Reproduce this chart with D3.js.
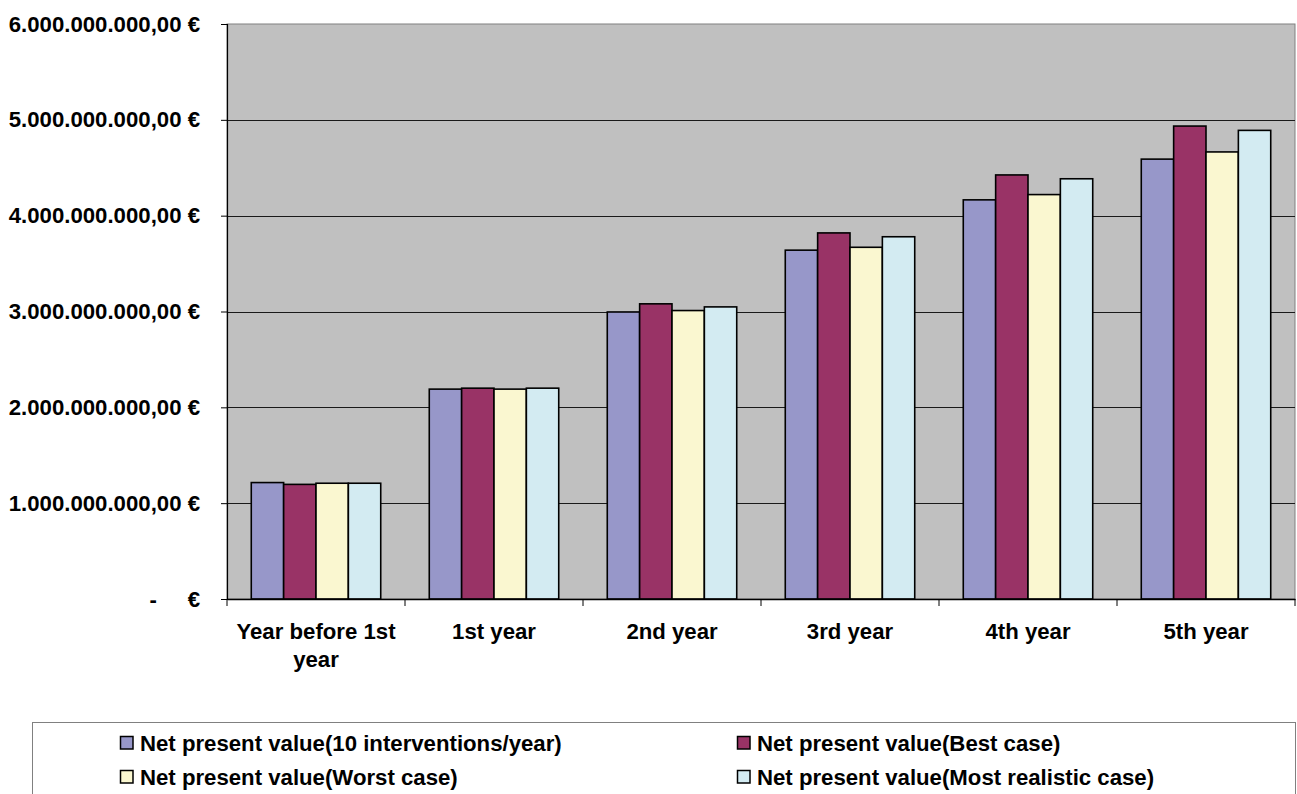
<!DOCTYPE html>
<html>
<head>
<meta charset="utf-8">
<script src="https://cdn.jsdelivr.net/npm/d3@7"></script>
<style>
  html, body { margin: 0; padding: 0; background: #ffffff; }
  svg { display: block; font-family: "Liberation Sans", Arial, sans-serif; font-weight: bold; }
</style>
</head>
<body>
<svg id="chart" width="1297" height="794"></svg>
<script>
// Net present value by year, four scenarios (values in €)
const categories = ["Year before 1st year", "1st year", "2nd year", "3rd year", "4th year", "5th year"];
const seriesNames = [
  "Net present value(10 interventions/year)",
  "Net present value(Best case)",
  "Net present value(Worst case)",
  "Net present value(Most realistic case)"
];
const tenInterventions = [1215000000, 2190000000, 2995000000, 3640000000, 4165000000, 4590000000];
const bestCase         = [1196000000, 2200000000, 3080000000, 3820000000, 4425000000, 4935000000];
const worstCase        = [1208000000, 2190000000, 3010000000, 3670000000, 4220000000, 4665000000];
const realisticCase    = [1208000000, 2200000000, 3048000000, 3780000000, 4385000000, 4890000000];
const yTicks = [0, 1000000000, 2000000000, 3000000000, 4000000000, 5000000000, 6000000000];
const colors = ["#9797c9", "#993366", "#faf7d0", "#d3ebf2"];

const seriesValues = [tenInterventions, bestCase, worstCase, realisticCase];
const FONT = 22.2;

const svg = d3.select("#chart");
const plot = { left: 227, right: 1295, top: 24, bottom: 599 };

const x = d3.scaleBand().domain(categories).range([plot.left, plot.right]).paddingInner(0).paddingOuter(0);
// bars within a category: gap of 150% of a bar width split on both sides
const xInner = d3.scaleBand().domain(d3.range(seriesNames.length))
  .range([0, x.bandwidth()]).paddingInner(0).paddingOuter(0.75);
const y = d3.scaleLinear().domain([0, 6000000000]).range([plot.bottom, plot.top]);

// plot area background
svg.append("rect")
  .attr("x", plot.left).attr("y", plot.top)
  .attr("width", plot.right - plot.left).attr("height", plot.bottom - plot.top)
  .attr("fill", "#c0c0c0").attr("stroke", "#808080").attr("stroke-width", 1);

// horizontal gridlines
svg.append("g").selectAll("line").data(yTicks.filter(d => d > 0 && d < 6000000000)).join("line")
  .attr("x1", plot.left).attr("x2", plot.right)
  .attr("y1", d => Math.round(y(d)) + 0.5).attr("y2", d => Math.round(y(d)) + 0.5)
  .attr("stroke", "#1a1a1a").attr("stroke-width", 1);

// y axis
const fmt = d => {
  if (d === 0) return "-     €";
  const s = d3.format(",.2f")(d);
  return s.replace(/,/g, "#").replace(/\./g, ",").replace(/#/g, ".") + " €";
};
const yAxis = svg.append("g")
  .attr("transform", `translate(${plot.left},0)`)
  .call(d3.axisLeft(y).tickValues(yTicks).tickSize(6).tickPadding(21).tickFormat(fmt));
yAxis.select(".domain").attr("stroke", "#000").attr("stroke-width", 1.2);
yAxis.selectAll(".tick line").attr("stroke", "#000");
yAxis.selectAll(".tick text")
  .attr("font-size", FONT).attr("font-weight", "bold").attr("fill", "#000")
  .attr("font-family", "Liberation Sans, Arial, sans-serif")
  .style("white-space", "pre");

// bars
const groups = svg.append("g").selectAll("g").data(categories).join("g")
  .attr("transform", d => `translate(${x(d)},0)`);
groups.selectAll("rect")
  .data((c, ci) => seriesValues.map((vals, si) => ({ si, v: vals[ci] })))
  .join("rect")
  .attr("x", d => xInner(d.si))
  .attr("y", d => y(d.v))
  .attr("width", xInner.bandwidth())
  .attr("height", d => y(0) - y(d.v))
  .attr("fill", d => colors[d.si])
  .attr("stroke", "#000").attr("stroke-width", 1.6);

// x axis
const xAxis = svg.append("g")
  .attr("transform", `translate(0,${plot.bottom})`)
  .call(d3.axisBottom(x).tickSize(0).tickPadding(24));
xAxis.select(".domain").attr("stroke", "#000").attr("stroke-width", 1.5);
xAxis.selectAll(".tick text")
  .attr("font-size", FONT).attr("font-weight", "bold").attr("fill", "#000")
  .attr("font-family", "Liberation Sans, Arial, sans-serif");
// tick marks between categories
svg.append("g").selectAll("line").data(d3.range(categories.length + 1)).join("line")
  .attr("x1", i => plot.left + i * x.step()).attr("x2", i => plot.left + i * x.step())
  .attr("y1", plot.bottom).attr("y2", plot.bottom + 7)
  .attr("stroke", "#000").attr("stroke-width", 1);

// wrap long category labels to the band width
xAxis.selectAll(".tick text").each(function() {
  const t = d3.select(this);
  const words = t.text().split(/\s+/);
  const maxW = x.bandwidth() - 8;
  t.text(null);
  let line = [];
  let ts = t.append("tspan").attr("x", 0).attr("dy", "0.71em");
  for (const w of words) {
    line.push(w);
    ts.text(line.join(" "));
    if (ts.node().getComputedTextLength() > maxW && line.length > 1) {
      line.pop();
      ts.text(line.join(" "));
      line = [w];
      ts = t.append("tspan").attr("x", 0).attr("dy", "1.26em").text(w);
    }
  }
});

// legend
const legend = svg.append("g");
legend.append("rect")
  .attr("x", 32.5).attr("y", 722.5).attr("width", 1263).attr("height", 90)
  .attr("fill", "#fff").attr("stroke", "#808080").attr("stroke-width", 1);
const legPos = [[120, 743], [737, 743], [120, 777], [737, 777]];
const items = legend.selectAll("g.item").data(seriesNames).join("g")
  .attr("class", "item")
  .attr("transform", (d, i) => `translate(${legPos[i][0]},${legPos[i][1]})`);
items.append("rect")
  .attr("x", 0.5).attr("y", -6.5).attr("width", 12.5).attr("height", 12.5)
  .attr("fill", (d, i) => colors[i]).attr("stroke", "#000").attr("stroke-width", 1.5);
items.append("text")
  .attr("x", 20).attr("y", 0).attr("dy", "0.35em")
  .attr("font-size", FONT).attr("font-weight", "bold").attr("fill", "#000")
  .text(d => d);
</script>
</body>
</html>
